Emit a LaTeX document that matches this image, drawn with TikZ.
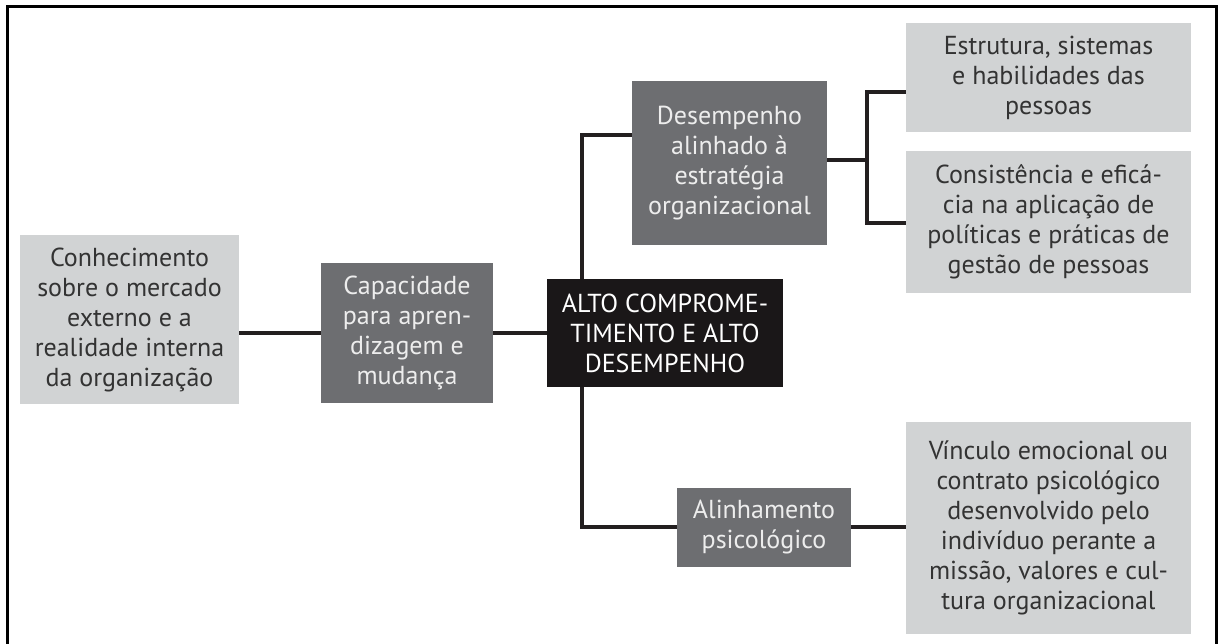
\documentclass[tikz,border=0pt]{standalone}
\usepackage{fontspec}
\setmainfont{PT Sans}
\usetikzlibrary{backgrounds}

\definecolor{lightbox}{HTML}{D1D3D4}
\definecolor{darkbox}{HTML}{6D6E71}
\definecolor{corebox}{HTML}{1A1718}
\definecolor{inklight}{HTML}{EDEDED}
\definecolor{inkdark}{HTML}{333333}
\definecolor{wire}{HTML}{231F20}

\tikzset{
  box/.style={inner sep=0pt, align=center, font=\fontsize{26}{30}\selectfont},
  lightcard/.style={box, fill=lightbox, text=inkdark},
  darkcard/.style={box, fill=darkbox, text=inklight},
  corecard/.style={box, fill=corebox, text=white},
  link/.style={draw=wire, line width=3.2pt},
  frameline/.style={draw=black, line width=3pt}
}

\begin{document}
\begin{tikzpicture}[x=1pt, y=-1pt]
  \useasboundingbox (0,0) rectangle (1220,644);

  % outer frame, open at the bottom
  \draw[frameline] (7,644) -- (7,7) -- (1216,7) -- (1216,644);

  % boxes
  \node[lightcard, minimum width=219pt, minimum height=169pt] (know) at (129.5,319.5)
    {Conhecimento\\sobre o mercado\\externo e a\\realidade interna\\da organização};
  \node[darkcard, minimum width=172pt, minimum height=140pt] (learn) at (407,333)
    {Capacidade\\para apren-\\dizagem e\\mudança};
  \node[corecard, minimum width=236pt, minimum height=108pt] (core) at (665,333)
    {ALTO COMPROME-\\TIMENTO E ALTO\\DESEMPENHO};
  \node[darkcard, minimum width=195pt, minimum height=164pt] (perf) at (729.5,163)
    {Desempenho\\alinhado à\\estratégia\\organizacional};
  \node[lightcard, minimum width=285pt, minimum height=109pt] (struct) at (1048.5,77.5)
    {Estrutura, sistemas\\e habilidades das\\pessoas};
  \node[lightcard, minimum width=285pt, minimum height=142pt] (consist) at (1048.5,222)
    {Consistência e eficá-\\cia na aplicação de\\políticas e práticas de\\gestão de pessoas};
  \node[darkcard, minimum width=174pt, minimum height=79pt] (psych) at (764,527.5)
    {Alinhamento\\psicológico};
  \node[lightcard, minimum width=285pt, minimum height=212pt] (bond) at (1048.5,528)
    {Vínculo emocional ou\\contrato psicológico\\desenvolvido pelo\\indivíduo perante a\\missão, valores e cul-\\tura organizacional};

  % junction points of the connectors
  \coordinate (trunkTop) at (582,135);
  \coordinate (trunkBot) at (582,527);
  \coordinate (forkMid) at (867,160);
  \coordinate (forkTop) at (867,92);
  \coordinate (forkBot) at (867,223);

  \begin{scope}[on background layer]
    \draw[link] (know.east |- learn.west) -- (learn.west);
    \draw[link] (learn.east) -- (core.west);
    \draw[link] (perf.west |- trunkTop) -- (trunkTop) -- (trunkBot) -- (psych.west |- trunkBot);
    \draw[link] (perf.east |- forkMid) -- (forkMid);
    \draw[link] (struct.west |- forkTop) -- (forkTop) -- (forkBot) -- (consist.west |- forkBot);
    \draw[link] (psych.east |- trunkBot) -- (bond.west |- trunkBot);
  \end{scope}
\end{tikzpicture}
\end{document}
